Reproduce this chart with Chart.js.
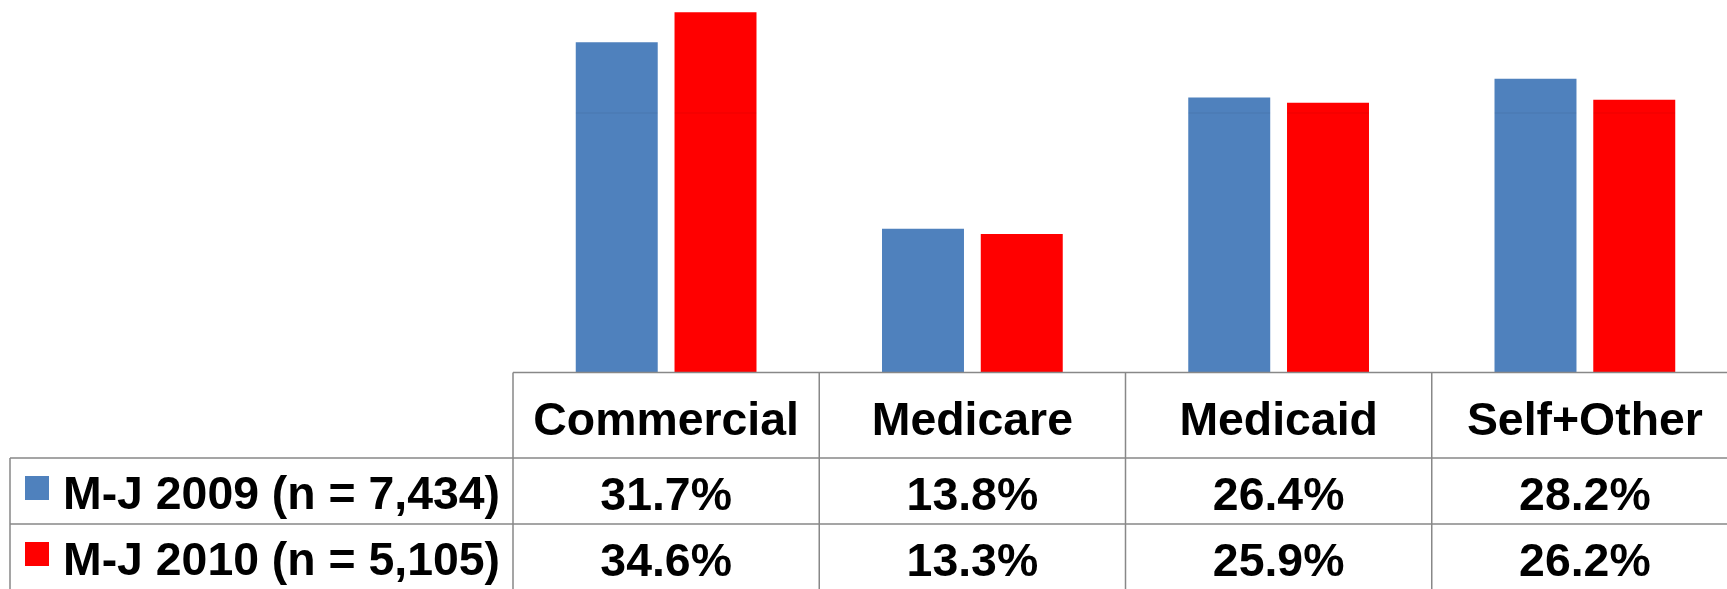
<!DOCTYPE html>
<html>
<head>
<meta charset="utf-8">
<script src="https://cdn.jsdelivr.net/npm/chart.js@4/dist/chart.umd.min.js"></script>
<style>
  html, body { margin: 0; padding: 0; background: #fff; overflow: hidden; }
  #wrap { width: 1727px; height: 589px; overflow: hidden; position: relative; }
  #c { display: block; }
</style>
</head>
<body>
<div id="wrap"><canvas id="c" width="1740" height="589" style="width:1740px;height:589px"></canvas></div>
<script>
const categories = ['Commercial', 'Medicare', 'Medicaid', 'Self+Other'];
const seriesNames = ['M-J 2009 (n = 7,434)', 'M-J 2010 (n = 5,105)'];
const values2009 = [31.7, 13.8, 26.4, 28.2];
const values2010 = [34.6, 13.3, 25.9, 26.2];
const yTicks = [0, 25];

const FONT = "bold 46.4px 'Liberation Sans', Arial, Helvetica, sans-serif";
const LINE = '#888888';

const tablePlugin = {
  id: 'dataTable',
  afterDatasetsDraw(chart) {
    const ctx = chart.ctx;
    const y = chart.scales.y;
    const gy = Math.round(y.getPixelForValue(yTicks[1])) + 1;
    ctx.save();
    ctx.fillStyle = 'rgba(0,0,0,0.07)';
    chart.data.datasets.forEach((ds, di) => {
      chart.getDatasetMeta(di).data.forEach(el => {
        if (el.y < gy) ctx.fillRect(el.x - el.width / 2, gy - 0.5, el.width, 1);
      });
    });
    ctx.restore();
  },
  afterDraw(chart) {
    const ctx = chart.ctx;
    const area = chart.chartArea;
    const x = chart.scales.x;
    const W = chart.width, H = chart.height;
    const n = categories.length;
    const cw = (area.right - area.left) / n;
    const top = area.bottom;
    const row1 = top + 85.5;
    const row2 = row1 + 66;
    const tableLeft = 10;

    ctx.save();
    ctx.strokeStyle = LINE;
    ctx.lineWidth = 1.5;
    ctx.beginPath();
    ctx.moveTo(area.left, top); ctx.lineTo(W, top);
    ctx.moveTo(tableLeft, row1); ctx.lineTo(W, row1);
    ctx.moveTo(tableLeft, row2); ctx.lineTo(W, row2);
    ctx.moveTo(tableLeft, row1); ctx.lineTo(tableLeft, H);
    for (let i = 0; i <= n; i++) {
      const bx = x.getPixelForTick(Math.min(i, n - 1)) + (i === n ? cw / 2 : -cw / 2);
      ctx.moveTo(bx, top); ctx.lineTo(bx, H);
    }
    ctx.stroke();

    ctx.fillStyle = '#000';
    ctx.font = FONT;
    ctx.textBaseline = 'alphabetic';
    ctx.textAlign = 'center';
    const series = [values2009, values2010];
    const rowTops = [row1, row2];
    for (let i = 0; i < n; i++) {
      const cx = x.getPixelForTick(i);
      ctx.fillText(categories[i], cx, top + 62.5);
      series.forEach((vals, si) => {
        ctx.fillText(vals[i].toFixed(1) + '%', cx, rowTops[si] + 51.5);
      });
    }
    ctx.textAlign = 'left';
    chart.data.datasets.forEach((ds, si) => {
      ctx.fillStyle = ds.backgroundColor;
      ctx.fillRect(25, rowTops[si] + 18, 24, 24);
      ctx.fillStyle = '#000';
      ctx.fillText(seriesNames[si], 63, rowTops[si] + 51);
    });
    ctx.restore();
  }
};

new Chart(document.getElementById('c'), {
  type: 'bar',
  data: {
    labels: categories,
    datasets: [
      { label: seriesNames[0], data: values2009, backgroundColor: '#4F81BD',
        borderWidth: 0, categoryPercentage: 0.645, barPercentage: 0.83 },
      { label: seriesNames[1], data: values2010, backgroundColor: '#FF0000',
        borderWidth: 0, categoryPercentage: 0.645, barPercentage: 0.83 }
    ]
  },
  options: {
    responsive: false,
    animation: false,
    devicePixelRatio: 1,
    layout: { padding: { left: 513, right: 2, top: 8, bottom: 216.5 } },
    plugins: { legend: { display: false }, tooltip: { enabled: false }, title: { display: false } },
    scales: {
      x: { display: false },
      y: { display: false, min: 0, max: 35, afterBuildTicks: s => { s.ticks = yTicks.map(v => ({ value: v })); } }
    }
  },
  plugins: [tablePlugin]
});
</script>
</body>
</html>
